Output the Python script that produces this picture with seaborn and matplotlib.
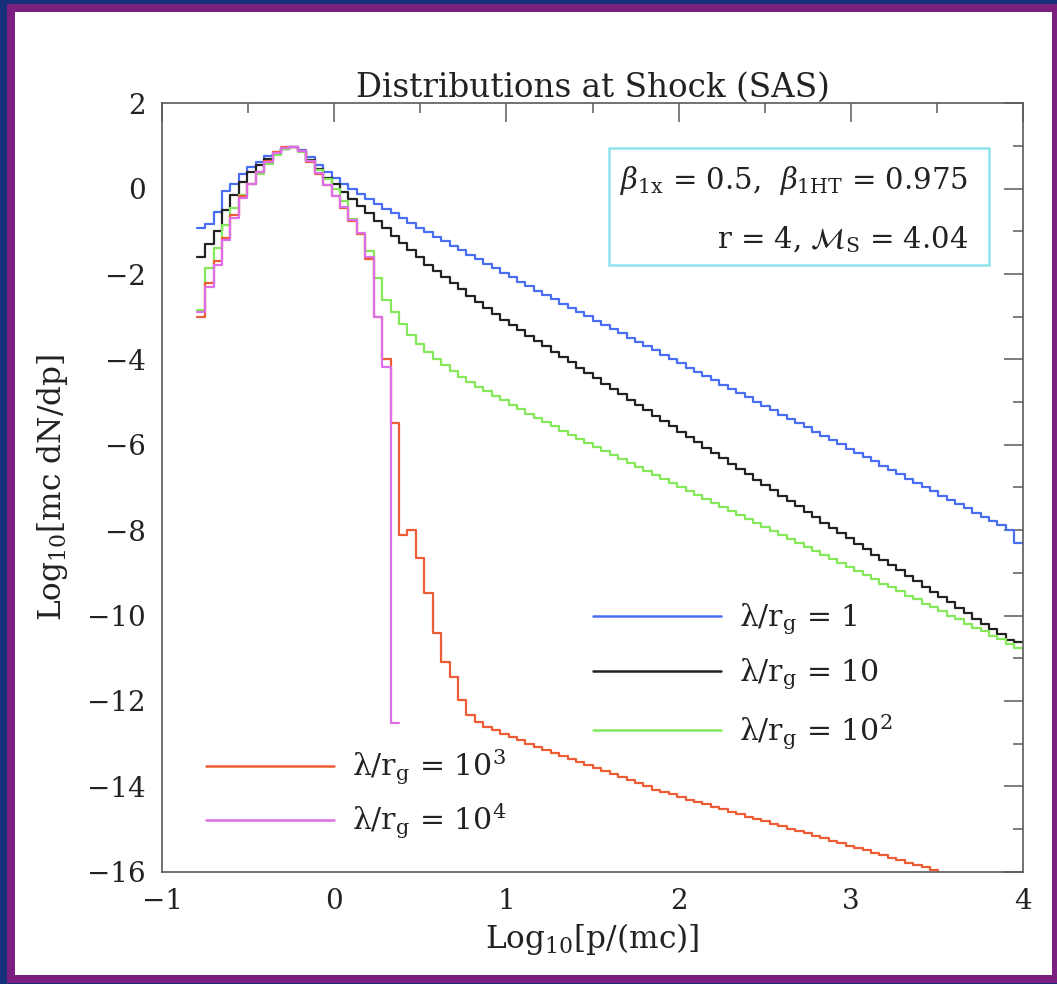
import numpy as np
import pandas as pd
import matplotlib
matplotlib.use("Agg")
import matplotlib.pyplot as plt
import seaborn as sns
from matplotlib.patches import Rectangle
from matplotlib.lines import Line2D
from matplotlib.ticker import MultipleLocator

# ---------------- data (log10 values per momentum bin) ----------------
x_start, x_stop, n_bins = -0.8, 4.0, 98

blue_vals = [-0.93, -0.82, -0.55, -0.05, 0.12, 0.35, 0.50, 0.63, 0.76, 0.86, 0.94, 0.97, 0.90, 0.75,
             0.55, 0.38, 0.25, 0.12, 0.00, -0.12, -0.24, -0.36, -0.47, -0.58, -0.69, -0.80, -0.91, -1.02,
             -1.13, -1.23, -1.34, -1.44, -1.55, -1.65, -1.76, -1.86, -1.97, -2.07, -2.18, -2.28, -2.39,
             -2.49, -2.59, -2.69, -2.79, -2.89, -2.99, -3.09, -3.19, -3.29, -3.39, -3.49, -3.59, -3.69,
             -3.79, -3.89, -3.99, -4.09, -4.19, -4.29, -4.39, -4.49, -4.59, -4.69, -4.79, -4.89, -4.99,
             -5.09, -5.19, -5.29, -5.39, -5.49, -5.59, -5.69, -5.79, -5.89, -5.99, -6.09, -6.19, -6.29,
             -6.39, -6.49, -6.59, -6.69, -6.79, -6.89, -6.99, -7.09, -7.19, -7.29, -7.39, -7.49, -7.59,
             -7.69, -7.79, -7.89, -7.99, -8.31]

black_vals = [-1.59, -1.30, -0.98, -0.50, -0.15, 0.15, 0.38, 0.55, 0.69, 0.82, 0.93, 0.97, 0.88, 0.68,
              0.47, 0.25, 0.10, -0.07, -0.24, -0.41, -0.58, -0.76, -0.93, -1.10, -1.27, -1.44, -1.61, -1.78,
              -1.93, -2.07, -2.22, -2.36, -2.51, -2.65, -2.80, -2.94,
              -3.07, -3.19, -3.32, -3.44, -3.57, -3.69, -3.82, -3.94, -4.07, -4.19, -4.32, -4.44, -4.57,
              -4.69, -4.82, -4.94, -5.07, -5.19, -5.32, -5.44, -5.57, -5.69, -5.82, -5.94, -6.07, -6.19,
              -6.32, -6.44, -6.57, -6.69, -6.82, -6.94, -7.07, -7.19, -7.32, -7.44, -7.57, -7.69, -7.82,
              -7.94, -8.07, -8.19, -8.32, -8.44, -8.57, -8.69, -8.82, -8.94, -9.07, -9.19, -9.32, -9.44,
              -9.57, -9.69, -9.82, -9.94, -10.07, -10.19, -10.32, -10.44, -10.57, -10.62]

green_vals = [-2.84, -1.85, -1.40, -0.85, -0.45, -0.15, 0.12, 0.35, 0.58, 0.78, 0.93, 0.98, 0.86, 0.66,
              0.44, 0.22, 0.00, -0.28, -0.72, -1.05, -1.45, -2.10, -2.60, -2.90, -3.17, -3.42, -3.64,
              -3.83, -4.00, -4.14, -4.28, -4.41, -4.53, -4.64, -4.75, -4.86, -4.96, -5.07, -5.17, -5.27,
              -5.37, -5.47, -5.57, -5.67, -5.76, -5.86, -5.96, -6.05,
              -6.14, -6.24, -6.33, -6.43, -6.52, -6.61, -6.71, -6.80, -6.90, -6.99, -7.08, -7.18, -7.27,
              -7.37, -7.46, -7.55, -7.65, -7.74, -7.84, -7.93, -8.02, -8.12, -8.21, -8.31, -8.40, -8.49,
              -8.59, -8.68, -8.78, -8.87, -8.96, -9.06, -9.15, -9.25, -9.34, -9.43, -9.53, -9.62, -9.72,
              -9.81, -9.90, -10.00, -10.09, -10.19, -10.28, -10.37, -10.47, -10.56, -10.66, -10.75]

red_vals = [-3.00, -2.20, -1.70, -1.15, -0.62, -0.18, 0.12, 0.40, 0.65, 0.85, 0.97, 0.97, 0.88, 0.62,
            0.35, 0.08, -0.18, -0.45, -0.75, -1.05, -1.65, -3.00, -4.00, -5.50, -8.11, -8.00,
            -8.66, -9.46, -10.41, -11.08, -11.43, -11.98, -12.33, -12.49, -12.60, -12.68,
            -12.78, -12.85, -12.92, -13.00, -13.07, -13.14, -13.21, -13.28, -13.36, -13.43,
            -13.50, -13.57, -13.64, -13.72, -13.79, -13.86, -13.93, -14.00, -14.08, -14.13,
            -14.19, -14.25, -14.31, -14.36, -14.42, -14.48, -14.53, -14.59, -14.65, -14.71,
            -14.76, -14.82, -14.88, -14.93, -14.99, -15.05, -15.10, -15.16, -15.22, -15.28,
            -15.33, -15.39, -15.45, -15.50, -15.56, -15.62, -15.67, -15.73, -15.79, -15.85,
            -15.90, -15.96, -16.02]

magenta_vals = [-2.90, -2.30, -1.78, -1.20, -0.68, -0.22, 0.10, 0.38, 0.63, 0.84, 0.96, 0.98, 0.88,
                0.64, 0.36, 0.09, -0.17, -0.44, -0.74, -1.04, -1.60, -3.00, -4.17, -12.52]

labels = ["λ/r$_{\\rm g}$ = 1", "λ/r$_{\\rm g}$ = 10", "λ/r$_{\\rm g}$ = 10$^2$",
          "λ/r$_{\\rm g}$ = 10$^3$", "λ/r$_{\\rm g}$ = 10$^4$"]
colors = ["#4a6ef2", "#222222", "#84e85a", "#ee5c36", "#de6ee8"]
series_vals = [blue_vals, black_vals, green_vals, red_vals, magenta_vals]

title = "Distributions at Shock (SAS)"
xlabel = r"Log$_{10}$[p/(mc)]"
ylabel = r"Log$_{10}$[mc dN/dp]"
box_line1 = r"$\beta_{\rm 1x}$ = 0.5,  $\beta_{\rm 1HT}$ = 0.975"
box_line2 = r"r = 4, $\mathcal{M}_{\rm S}$ = 4.04"

# ---------------- build long table ----------------
edges = np.linspace(x_start, x_stop, n_bins + 1)
rows = []
for lab, vals in zip(labels, series_vals):
    n = len(vals)
    xs = edges[: n + 1]
    ys = list(vals) + [vals[-1]]
    for xv, yv in zip(xs, ys):
        rows.append({"x": xv, "y": yv, "series": lab})
df = pd.DataFrame(rows)

# ---------------- figure ----------------
sns.set_theme(style="white")
plt.rcParams["font.family"] = ["DejaVu Serif"]
plt.rcParams["mathtext.fontset"] = "dejavuserif"
plt.rcParams["axes.unicode_minus"] = True

W, H = 1057, 984
fig = plt.figure(figsize=(W / 100, H / 100), dpi=100, facecolor="#16307a")
fig.patches.append(Rectangle((7 / W, 1 / H), 1 - 7 / W, (H - 5) / H, transform=fig.transFigure,
                             facecolor="#7b1f80", edgecolor="none", zorder=-10))
fig.patches.append(Rectangle((15 / W, 9 / H), (1052 - 15) / W, (975 - 12) / H, transform=fig.transFigure,
                             facecolor="white", edgecolor="none", zorder=-9))

ax = fig.add_axes([162.3 / W, 1 - 871.7 / H, (1022.7 - 162.3) / W, (871.7 - 103.3) / H])
ax.set_facecolor("white")

sns.lineplot(data=df, x="x", y="y", hue="series", hue_order=labels,
             palette=dict(zip(labels, colors)), estimator=None, sort=False,
             drawstyle="steps-post", linewidth=1.6, legend=False, ax=ax)

ax.set_xlim(-1, 4)
ax.set_ylim(-16, 2)
ax.xaxis.set_major_locator(MultipleLocator(1))
ax.xaxis.set_minor_locator(MultipleLocator(0.5))
ax.yaxis.set_major_locator(MultipleLocator(2))
ax.yaxis.set_minor_locator(MultipleLocator(1))
ax.tick_params(which="both", direction="in", top=True, right=True, color="#5a5a5a",
               labelcolor="#222222", labelsize=20, width=1.1, pad=12)
ax.tick_params(which="major", length=14)
ax.tick_params(which="minor", length=7)
for s in ax.spines.values():
    s.set_color("#5a5a5a")
    s.set_linewidth(1.2)

ax.set_title(title, fontsize=23.5, color="#222222", pad=5)
ax.set_xlabel(xlabel, fontsize=22.5, color="#222222", labelpad=4)
ax.set_ylabel(ylabel, fontsize=22.5, color="#222222", labelpad=12)

handles = [Line2D([], [], color=c, linewidth=1.8) for c in colors]
leg1 = ax.legend(handles=handles[:3], labels=labels[:3], loc="upper left",
                 bbox_to_anchor=(0.5006, 0.352), frameon=False, fontsize=21.5,
                 handlelength=4.3, handletextpad=0.6, labelspacing=0.67,
                 borderpad=0, borderaxespad=0, labelcolor="#222222")
ax.add_artist(leg1)
leg2 = ax.legend(handles=handles[3:], labels=labels[3:], loc="upper left",
                 bbox_to_anchor=(0.0508, 0.161), frameon=False, fontsize=21.5,
                 handlelength=4.3, handletextpad=0.6, labelspacing=0.49,
                 borderpad=0, borderaxespad=0, labelcolor="#222222")

ax.add_patch(Rectangle((0.519, 0.7899), 0.4417, 0.152, transform=ax.transAxes,
                       facecolor="white", edgecolor="#8fe3ea", linewidth=1.8, zorder=5))
ax.text(0.9364, 0.8885, box_line1, transform=ax.transAxes, ha="right", va="baseline",
        fontsize=21, color="#222222", zorder=6)
ax.text(0.9364, 0.8117, box_line2, transform=ax.transAxes, ha="right", va="baseline",
        fontsize=21, color="#222222", zorder=6)

fig.savefig("out.png", dpi=100, facecolor=fig.get_facecolor())
